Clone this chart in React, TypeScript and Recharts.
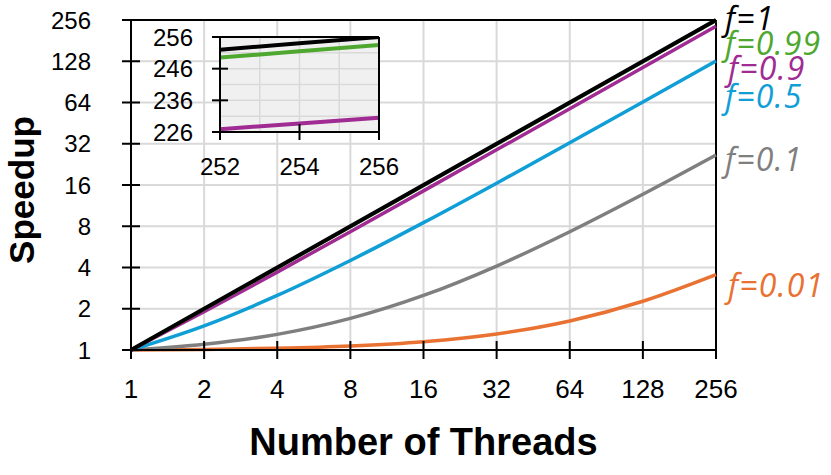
import React from "react";
import {
  LineChart,
  Line,
  XAxis,
  YAxis,
  CartesianGrid,
  ReferenceLine,
  LabelList,
} from "recharts";

// main chart values
const threads = [1, 2, 4, 8, 16, 32, 64, 128, 256];
const speedupF1 = [1, 2, 4, 8, 16, 32, 64, 128, 256];
const speedupF099 = [1, 1.99, 3.97, 7.93, 15.85, 31.69, 63.37, 126.73, 253.45];
const speedupF09 = [1, 1.9, 3.7, 7.3, 14.5, 28.9, 57.7, 115.3, 230.5];
const speedupF05 = [1, 1.5, 2.5, 4.5, 8.5, 16.5, 32.5, 64.5, 128.5];
const speedupF01 = [1, 1.1, 1.3, 1.7, 2.5, 4.1, 7.3, 13.7, 26.5];
const speedupF001 = [1, 1.01, 1.03, 1.07, 1.15, 1.31, 1.63, 2.27, 3.55];

const xTicks = [1, 2, 4, 8, 16, 32, 64, 128, 256];
const yTicks = [1, 2, 4, 8, 16, 32, 64, 128, 256];

// inset (zoom on the top right corner)
const insetThreads = [252, 254, 256];
const insetF1 = [252, 254, 256];
const insetF099 = [249.49, 251.47, 253.45];
const insetF09 = [226.9, 228.7, 230.5];
const insetXTicks = [252, 254, 256];
const insetYTicks = [226, 236, 246, 256];
const insetXGrid = [253, 254, 255];
const insetYGrid = [231, 236, 241, 246, 251];

const data = threads.map((t, i) => ({
  t,
  f1: speedupF1[i],
  f099: speedupF099[i],
  f09: speedupF09[i],
  f05: speedupF05[i],
  f01: speedupF01[i],
  f001: speedupF001[i],
}));

const insetData = insetThreads.map((t, i) => ({
  t,
  f1: insetF1[i],
  f099: insetF099[i],
  f09: insetF09[i],
}));

// draw order: bottom first
const SERIES = [
  { key: "f001", name: "f=0.01", color: "#E97132", dx: 12, dy: 10 },
  { key: "f01", name: "f=0.1", color: "#7F7F7F", dx: 9, dy: 4 },
  { key: "f05", name: "f=0.5", color: "#0F9ED5", dx: 9, dy: 34 },
  { key: "f09", name: "f=0.9", color: "#A02B93", dx: 12, dy: 41 },
  { key: "f099", name: "f=0.99", color: "#4EA72E", dx: 9, dy: 22 },
  { key: "f1", name: "f=1", color: "#000000", dx: 9, dy: -3 },
];

const tickFont = "'Liberation Sans', Arial, sans-serif";
const labelFont = "'Open Sans', 'Noto Sans', sans-serif";
const GRID = "#d9d9d9";

const endLabel = (s: (typeof SERIES)[number]) => (props: any) => {
  if (props.index !== threads.length - 1) return null;
  return (
    <text
      x={Number(props.x) + s.dx}
      y={Number(props.y) + s.dy}
      fill={s.color}
      fontFamily={labelFont}
      fontStyle="italic"
      fontSize={32}
      letterSpacing={1.2}
      dominantBaseline="central"
    >
      {s.name}
    </text>
  );
};

function Inset() {
  return (
    <div style={{ position: "absolute", left: 130, top: 17 }}>
      <LineChart
        width={300}
        height={180}
        data={insetData}
        margin={{ top: 20, right: 51, left: 0, bottom: 0 }}
      >
        <CartesianGrid
          horizontal={false}
          vertical={false}
          fill="#f0f0f0"
          fillOpacity={1}
        />
        {insetXGrid.map((v) => (
          <ReferenceLine key={"x" + v} x={v} stroke={GRID} strokeWidth={1.5} />
        ))}
        {insetYGrid.map((v) => (
          <ReferenceLine key={"y" + v} y={v} stroke={GRID} strokeWidth={1.5} />
        ))}
        <XAxis
          dataKey="t"
          type="number"
          domain={[252, 256]}
          ticks={insetXTicks}
          height={65}
          axisLine={{ stroke: "#000", strokeWidth: 2 }}
          tickLine={{ stroke: "#000", strokeWidth: 2, transform: "translate(0,-8)" }}
          tickSize={16}
          tickMargin={10}
          tick={{ fill: "#000", fontSize: 24, fontFamily: tickFont }}
          interval={0}
        />
        <YAxis
          type="number"
          domain={[226, 256]}
          ticks={insetYTicks}
          width={90}
          axisLine={{ stroke: "#000", strokeWidth: 2 }}
          tickLine={{ stroke: "#000", strokeWidth: 2, transform: "translate(8,0)" }}
          tickSize={16}
          tickMargin={11}
          tick={{ fill: "#000", fontSize: 24, fontFamily: tickFont }}
          interval={0}
          allowDataOverflow
        />
        <Line dataKey="f09" stroke="#A02B93" strokeWidth={4} dot={false} isAnimationActive={false} />
        <Line dataKey="f099" stroke="#4EA72E" strokeWidth={4} dot={false} isAnimationActive={false} />
        <Line dataKey="f1" stroke="#000000" strokeWidth={4} dot={false} isAnimationActive={false} />
        <ReferenceLine y={256} stroke="#000" strokeWidth={2} />
        <ReferenceLine x={256} stroke="#000" strokeWidth={2} />
      </LineChart>
    </div>
  );
}

export default function App() {
  return (
    <div style={{ position: "absolute", left: 0, top: 0, width: 831, height: 475, background: "#fff" }}>
      <LineChart
        width={831}
        height={475}
        data={data}
        margin={{ top: 20, right: 115, left: 0, bottom: 0 }}
      >
        <CartesianGrid stroke={GRID} strokeWidth={2} />
        <XAxis
          dataKey="t"
          type="number"
          scale="log"
          domain={[1, 256]}
          ticks={xTicks}
          height={125}
          axisLine={{ stroke: "#000", strokeWidth: 2 }}
          tickLine={{ stroke: "#000", strokeWidth: 2, transform: "translate(0,-9)" }}
          tickSize={18}
          tickMargin={12}
          tick={{ fill: "#000", fontSize: 26, fontFamily: tickFont }}
          interval={0}
          label={{
            content: (p: any) => (
              <text
                x={p.viewBox.x + p.viewBox.width / 2}
                y={455}
                textAnchor="middle"
                fontFamily={tickFont}
                fontWeight="bold"
                fontSize={38}
              >
                Number of Threads
              </text>
            ),
          }}
        />
        <YAxis
          type="number"
          scale="log"
          domain={[1, 256]}
          ticks={yTicks}
          width={131}
          axisLine={{ stroke: "#000", strokeWidth: 2 }}
          tickLine={{ stroke: "#000", strokeWidth: 2, transform: "translate(9,0)" }}
          tickSize={18}
          tickMargin={22}
          tick={{ fill: "#000", fontSize: 24, fontFamily: tickFont }}
          interval={0}
          label={{
            content: () => {
              const cy = 190;
              return (
                <text
                  x={21}
                  y={cy}
                  transform={`rotate(-90, 21, ${cy})`}
                  textAnchor="middle"
                  dominantBaseline="central"
                  fontFamily={tickFont}
                  fontWeight="bold"
                  fontSize={35}
                >
                  Speedup
                </text>
              );
            },
          }}
        />
        <ReferenceLine y={256} stroke="#000" strokeWidth={2} />
        <ReferenceLine x={256} stroke="#000" strokeWidth={2} />
        {SERIES.map((s) => (
          <Line
            key={s.key}
            dataKey={s.key}
            type="monotone"
            stroke={s.color}
            strokeWidth={s.key === "f1" ? 4 : 3.5}
            dot={false}
            isAnimationActive={false}
          >
            <LabelList dataKey={s.key} content={endLabel(s)} />
          </Line>
        ))}
      </LineChart>
      <Inset />
    </div>
  );
}
